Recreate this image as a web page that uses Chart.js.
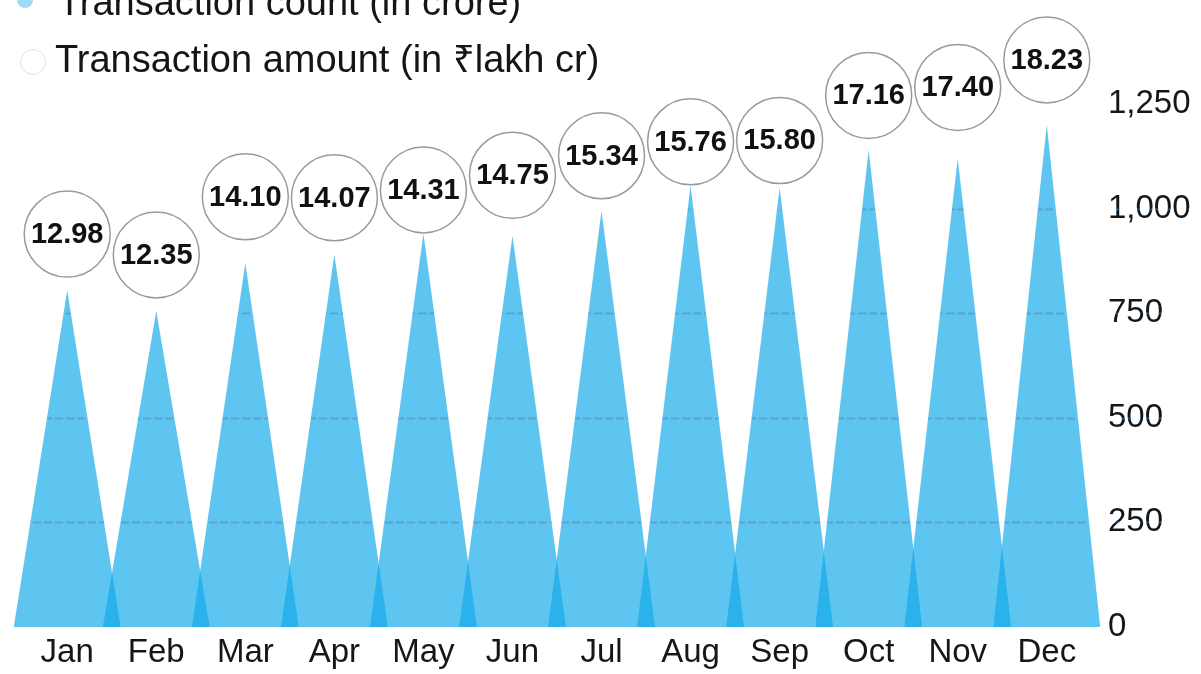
<!DOCTYPE html>
<html>
<head>
<meta charset="utf-8">
<script src="https://cdn.jsdelivr.net/npm/chart.js@4/dist/chart.umd.min.js"></script>
<style>
  html, body { margin: 0; padding: 0; background: #ffffff; overflow: hidden; }
  #wrap { position: relative; width: 1201px; height: 674px; }
  #c { position: absolute; left: 0; top: 0; }
  .leg { position: absolute; font-family: "Liberation Sans", Arial, sans-serif; font-size: 38px; line-height: 38px; color: #151515; white-space: nowrap; }
  .mk { position: absolute; border-radius: 50%; }
</style>
</head>
<body>
<div id="wrap">
  <canvas id="c" width="1201" height="674"></canvas>
  <span class="mk" style="left:17px;top:-8px;width:16px;height:16px;background:#9fdcf3;"></span>
  <div class="leg" style="left:58px;top:-17px;">Transaction count (in crore)</div>
  <span class="mk" style="left:20px;top:49px;width:24px;height:24px;border:1.5px solid #e2e2e2;background:#fff;"></span>
  <div class="leg" style="left:55px;top:40px;">Transaction amount (in ₹lakh cr)</div>
</div>
<script>
// ---- data ----
const months = ["Jan","Feb","Mar","Apr","May","Jun","Jul","Aug","Sep","Oct","Nov","Dec"];
const txnCount = [805, 755, 870, 890, 940, 935, 995, 1055, 1050, 1140, 1120, 1200];   // crore
const txnAmount = [12.98, 12.35, 14.10, 14.07, 14.31, 14.75, 15.34, 15.76, 15.80, 17.16, 17.40, 18.23]; // ₹ lakh cr
const countTicks = [0, 250, 500, 750, 1000, 1250];

// ---- styling ----
const HALF_BASE = 0.6;
const FILL = "rgba(18,169,233,0.68)";
const FONT = "'Liberation Sans', Arial, sans-serif";

const triangleSets = txnCount.map((v, i) => ({
  type: "line",
  label: months[i],
  data: [{x: i - HALF_BASE, y: 0}, {x: i, y: v}, {x: i + HALF_BASE, y: 0}],
  yAxisID: "y",
  fill: "origin",
  backgroundColor: FILL,
  borderWidth: 0,
  pointRadius: 0,
  tension: 0,
  order: 1,
  clip: false
}));

const circleSet = {
  type: "line",
  label: "Transaction amount",
  data: txnAmount.map((a, i) => ({x: i, y: a})),
  yAxisID: "y2",
  showLine: false,
  pointRadius: 43,
  pointHoverRadius: 43,
  pointBackgroundColor: "#ffffff",
  pointBorderColor: "#9a9a9a",
  pointBorderWidth: 1.5,
  order: 0,
  clip: false
};

const gridInside = {
  id: "gridInside",
  beforeDatasetDraw(chart, args) {
    if (args.index !== 0) return;
    const ctx = chart.ctx, ys = chart.scales.y;
    ctx.save();
    ctx.globalCompositeOperation = "source-atop";
    ctx.strokeStyle = "rgba(15,100,170,0.75)";
    ctx.lineWidth = 2;
    ctx.setLineDash([8, 3]);
    countTicks.forEach(t => {
      if (t === 0 || t === 1250) return;
      const y = Math.round(ys.getPixelForValue(t)) + 0.5;
      ctx.beginPath();
      ctx.moveTo(0, y);
      ctx.lineTo(chart.width, y);
      ctx.stroke();
    });
    ctx.restore();
  }
};

const circleLabels = {
  id: "circleLabels",
  afterDatasetsDraw(chart) {
    const meta = chart.getDatasetMeta(0);
    const ctx = chart.ctx;
    ctx.save();
    ctx.font = "bold 29px " + FONT;
    ctx.fillStyle = "#111111";
    ctx.textAlign = "center";
    ctx.textBaseline = "middle";
    meta.data.forEach((pt, i) => {
      ctx.fillText(txnAmount[i].toFixed(2), pt.x, pt.y + 1);
    });
    ctx.restore();
  }
};

new Chart(document.getElementById("c"), {
  data: { datasets: [circleSet, ...triangleSets] },
  options: {
    responsive: false,
    devicePixelRatio: 1,
    animation: false,
    events: [],
    layout: { autoPadding: false, padding: { left: 12, top: 104, right: 0, bottom: 0 } },
    plugins: { legend: { display: false }, tooltip: { enabled: false } },
    scales: {
      x: {
        type: "linear",
        min: -0.62,
        max: 11.62,
        grid: { display: false, drawTicks: false },
        border: { display: false },
        afterBuildTicks: s => { s.ticks = months.map((m, i) => ({ value: i })); },
        afterFit: s => { s.height = 47; },
        ticks: {
          autoSkip: false,
          maxRotation: 0,
          padding: 6,
          color: "#161616",
          font: { family: FONT, size: 33 },
          callback: v => months[v]
        }
      },
      y: {
        position: "right",
        min: 0,
        max: 1250,
        grid: { display: false, drawTicks: false },
        border: { display: false },
        afterBuildTicks: s => { s.ticks = countTicks.map(v => ({ value: v })); },
        afterFit: s => { s.width = 99; },
        ticks: {
          padding: 6,
          color: "#161616",
          font: { family: FONT, size: 33 },
          callback: v => v.toLocaleString("en-US")
        }
      },
      y2: {
        display: false,
        position: "right",
        min: 1.13,
        max: 16.9
      }
    }
  },
  plugins: [gridInside, circleLabels]
});
</script>
</body>
</html>
